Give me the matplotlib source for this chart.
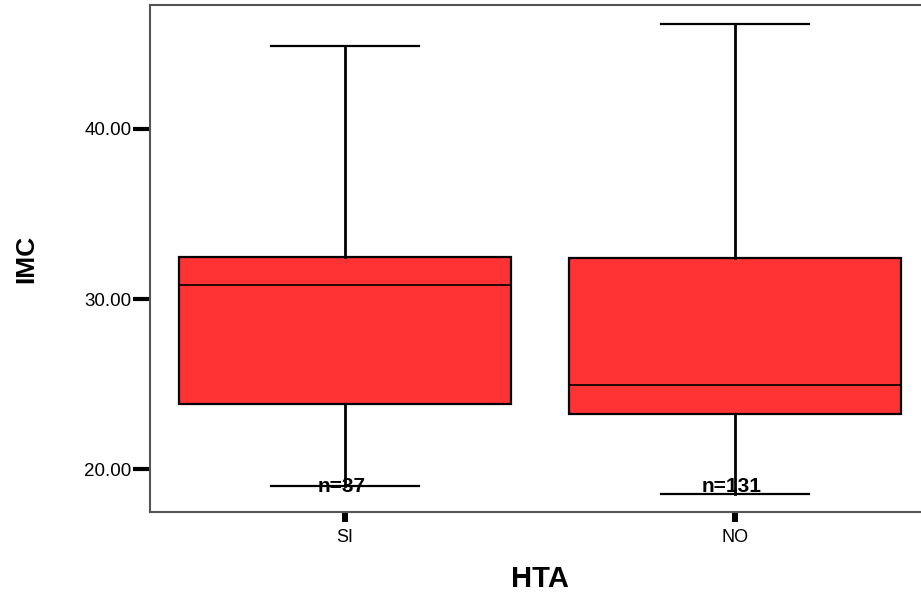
# boxplot of IMC by HTA group

import matplotlib.pyplot as plt

groups = ['SI', 'NO']
counts = [37, 131]
whisker_low = [19.02, 18.53]
q1 = [23.82, 23.24]
median = [30.82, 24.94]
q3 = [32.47, 32.41]
whisker_high = [44.90, 46.17]
yticks = [20, 30, 40]
ytick_labels = ['20.00', '30.00', '40.00']

plt.rcParams['font.family'] = ['Liberation Sans', 'DejaVu Sans']

fig = plt.figure(figsize=(9.21, 5.94), dpi=100)
ax = fig.add_axes([0.1629, 0.138, 0.8469, 0.8535])

stats = []
for i in range(len(groups)):
    stats.append({'label': groups[i], 'whislo': whisker_low[i], 'q1': q1[i],
                  'med': median[i], 'q3': q3[i], 'whishi': whisker_high[i]})

positions = list(range(1, len(groups) + 1))
ax.bxp(stats, positions=positions, widths=0.85, showfliers=False,
       patch_artist=True,
       boxprops=dict(facecolor='#ff3333', edgecolor='black', linewidth=1.6),
       medianprops=dict(color='black', linewidth=1.2),
       whiskerprops=dict(color='black', linewidth=2.0),
       capprops=dict(color='black', linewidth=1.6),
       capwidths=0.38)

for pos, n in zip(positions, counts):
    ax.text(pos - 0.01, 19.0, 'n=%d' % n, ha='center', va='center',
            fontsize=15, fontweight='bold')

ax.set_xlim(0.5, 2.5)
ax.set_ylim(17.47, 47.29)
ax.set_yticks(yticks)
ax.set_yticklabels(ytick_labels)
ax.set_xticks(positions)
ax.set_xticklabels(groups)

ax.tick_params(axis='y', direction='out', length=12, width=3, color='black',
               pad=1.5, labelsize=13.5)
ax.tick_params(axis='x', direction='out', length=7, width=4.3, color='black',
               pad=5, labelsize=13)

for side in ['left', 'bottom', 'top', 'right']:
    ax.spines[side].set_color('#555555')
    ax.spines[side].set_linewidth(1.5)

ax.set_xlabel('HTA', fontsize=21, fontweight='bold', labelpad=14)
ax.set_ylabel('IMC', fontsize=19, fontweight='bold', labelpad=33)

fig.savefig('out.png', dpi=100)
